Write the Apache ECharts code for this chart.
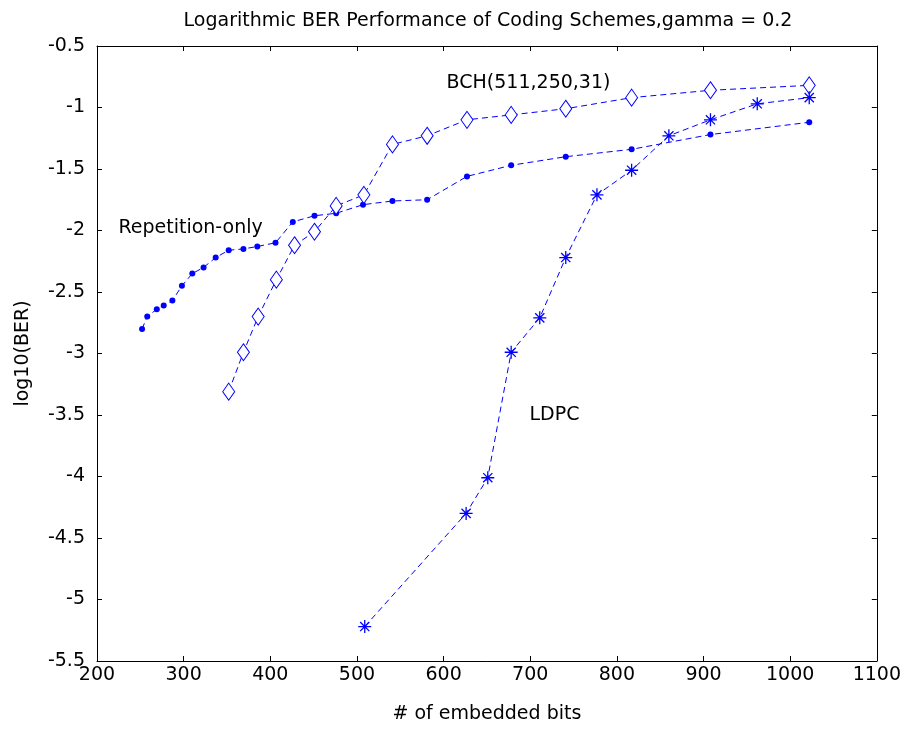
<!DOCTYPE html>
<html>
<head>
<meta charset="utf-8">
<script src="https://cdn.jsdelivr.net/npm/echarts@6/dist/echarts.min.js"></script>
<style>
html,body{margin:0;padding:0;background:#fff;}
#chart{width:904px;height:729px;}
</style>
</head>
<body>
<div id="chart"></div>
<script>
// Repetition-only
const repX = [252, 258, 269, 277, 287, 298, 310, 323, 337, 352, 369, 385, 406, 426, 451, 476, 507, 541, 581, 627, 678, 741, 817, 908, 1022];
const repY = [-2.80, -2.70, -2.64, -2.61, -2.57, -2.45, -2.35, -2.30, -2.22, -2.16, -2.15, -2.13, -2.10, -1.93, -1.88, -1.86, -1.79, -1.76, -1.75, -1.56, -1.47, -1.40, -1.34, -1.22, -1.12];
// BCH(511,250,31)
const bchX = [352, 369, 386, 407, 428, 451, 476, 508, 541, 581, 627, 678, 741, 817, 908, 1022];
const bchY = [-3.31, -2.99, -2.70, -2.40, -2.12, -2.01, -1.80, -1.71, -1.30, -1.23, -1.10, -1.06, -1.01, -0.92, -0.86, -0.82];
// LDPC
const ldpcX = [509, 626, 651, 678, 711, 741, 777, 817, 860, 908, 962, 1022];
const ldpcY = [-5.22, -4.30, -4.01, -2.99, -2.71, -2.22, -1.71, -1.51, -1.23, -1.10, -0.97, -0.92];

const xTicks = [200, 1100, 100];
const yTicks = [-5.5, -0.5, 0.5];

const titleText = 'Logarithmic BER Performance of Coding Schemes,gamma = 0.2';
const xName = '# of embedded bits';
const yName = 'log10(BER)';
const labels = [
  {text: 'Repetition-only', x: 308, y: -1.98},
  {text: 'BCH(511,250,31)', x: 698, y: -0.80},
  {text: 'LDPC', x: 728, y: -3.50}
];

const FONT = '"DejaVu Sans", "Liberation Sans", Arial, sans-serif';
const FS = 19;
const BLUE = '#0000ff';
const zip = (a, b) => a.map((v, i) => [v, b[i]]);
const star = 'path://M0,-10L0,10M-10,0L10,0M-7.07,-7.07L7.07,7.07M-7.07,7.07L7.07,-7.07';

const chart = echarts.init(document.getElementById('chart'), null, {renderer: 'canvas'});

const baseAxis = {
  axisLine: {show: true, onZero: false, lineStyle: {color: '#000', width: 1}},
  axisTick: {show: true, inside: true, length: 5, lineStyle: {color: '#000'}},
  splitLine: {show: false},
  axisLabel: {color: '#000', fontFamily: FONT, fontSize: FS}
};

const option = {
  backgroundColor: '#fff',
  animation: false,
  title: {
    text: titleText, left: 483, top: 7, textAlign: 'center',
    textStyle: {fontFamily: FONT, fontSize: FS, fontWeight: 'normal', color: '#000'}
  },
  grid: {left: 97, right: 26, top: 46, bottom: 67, containLabel: false},
  xAxis: [
    Object.assign({}, baseAxis, {
      type: 'value', min: xTicks[0], max: xTicks[1], interval: xTicks[2], position: 'bottom',
      name: xName, nameLocation: 'middle', nameGap: 44,
      nameTextStyle: {fontFamily: FONT, fontSize: FS, color: '#000'},
      axisLabel: Object.assign({}, baseAxis.axisLabel, {margin: 5, formatter: v => String(v)})
    }),
    Object.assign({}, baseAxis, {
      type: 'value', min: xTicks[0], max: xTicks[1], interval: xTicks[2], position: 'top',
      axisLabel: {show: false}
    })
  ],
  yAxis: [
    Object.assign({}, baseAxis, {
      type: 'value', min: yTicks[0], max: yTicks[1], interval: yTicks[2], position: 'left',
      name: yName, nameLocation: 'middle', nameGap: 64, nameRotate: 90,
      nameTextStyle: {fontFamily: FONT, fontSize: FS, color: '#000'},
      axisLabel: Object.assign({}, baseAxis.axisLabel, {margin: 12, formatter: v => String(v)})
    }),
    Object.assign({}, baseAxis, {
      type: 'value', min: yTicks[0], max: yTicks[1], interval: yTicks[2], position: 'right',
      axisLabel: {show: false}
    })
  ],
  series: [
    {
      type: 'line', name: 'Repetition-only', data: zip(repX, repY),
      symbol: 'circle', symbolSize: 6,
      lineStyle: {color: BLUE, width: 1, type: [6, 4]},
      itemStyle: {color: BLUE}
    },
    {
      type: 'line', name: 'BCH(511,250,31)', data: zip(bchX, bchY),
      symbol: 'diamond', symbolSize: [12, 17],
      lineStyle: {color: BLUE, width: 1, type: [6, 4]},
      itemStyle: {color: '#fff', borderColor: BLUE, borderWidth: 1}
    },
    {
      type: 'line', name: 'LDPC', data: zip(ldpcX, ldpcY),
      symbol: star, symbolSize: 13,
      lineStyle: {color: BLUE, width: 1, type: [6, 4]},
      itemStyle: {color: BLUE, borderColor: BLUE, borderWidth: 1.3}
    }
  ]
};
chart.setOption(option);

// Text annotations placed at data coordinates
chart.setOption({
  graphic: labels.map(l => {
    const p = chart.convertToPixel({xAxisIndex: 0, yAxisIndex: 0}, [l.x, l.y]);
    return {
      type: 'text', x: p[0], y: p[1], silent: true, z: 100,
      style: {text: l.text, fill: '#000', font: FS + 'px ' + FONT, textAlign: 'center', textVerticalAlign: 'middle'}
    };
  })
});
</script>
</body>
</html>
